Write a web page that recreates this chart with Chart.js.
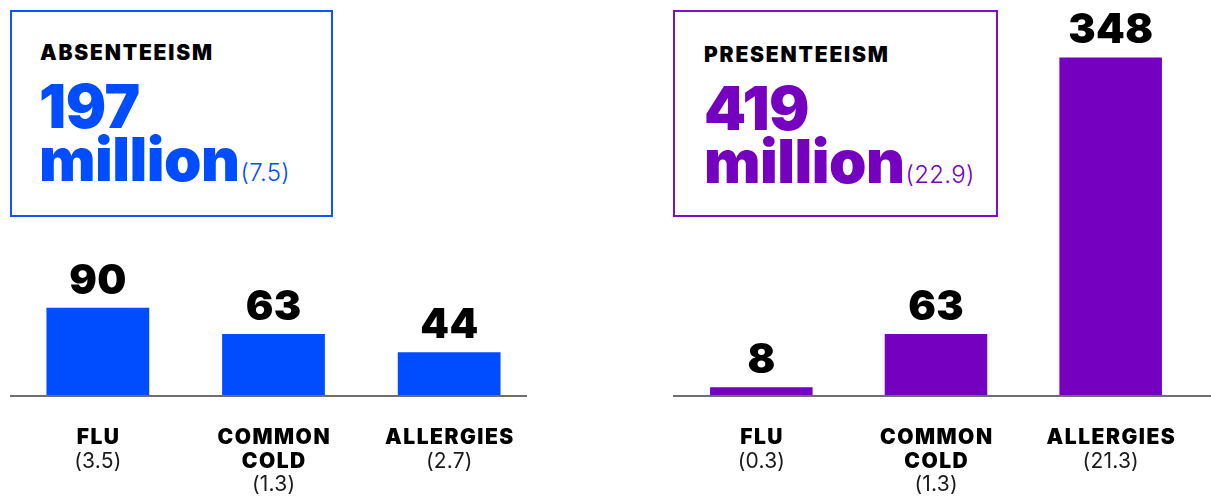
<!DOCTYPE html>
<html>
<head>
<meta charset="utf-8">
<script src="https://cdn.jsdelivr.net/npm/chart.js@4"></script>
<style>
  body { margin: 0; width: 1211px; height: 498px; background: #fff; position: relative; overflow: hidden; font-family: Inter, "DejaVu Sans", sans-serif; }
  canvas { position: absolute; top: 0; }
  .box { position: absolute; top: 10px; height: 203px; border: 2px solid; box-sizing: content-box; }
  .box .title { position: absolute; left: 28px; top: 29px; font-size: 21px; font-weight: 900; color: #000; letter-spacing: 1.8px; line-height: 24px; }
  .box .big { position: absolute; left: 27px; top: 68px; font-size: 60px; font-weight: 900; line-height: 53px; letter-spacing: -0.5px; }
  .box .sub { font-size: 24px; font-weight: 300; letter-spacing: 0.3px; margin-left: 1px; }
</style>
</head>
<body>
<div class="box" id="boxAbs" style="left:10px;width:319px;border-color:#0f55ff;color:#004dff">
  <div class="title">ABSENTEEISM</div>
  <div class="big">197<br>million<span class="sub">(7.5)</span></div>
</div>
<div class="box" id="boxPre" style="left:673px;width:321px;border-color:#7d10c6;color:#7500c0">
  <div class="title" style="left:29px;top:31px">PRESENTEEISM</div>
  <div class="big" style="left:29px;top:70px">419<br>million<span class="sub">(22.9)</span></div>
</div>
<canvas id="graficoAssenze" width="540" height="498" style="left:0"></canvas>
<canvas id="graficoPresenze" width="611" height="498" style="left:600px"></canvas>
<script>
const categorie = [['FLU'], ['COMMON', 'COLD'], ['ALLERGIES']];
const assenzeValori = [90, 63, 44];
const assenzeGiorni = [3.5, 1.3, 2.7];
const presenzeValori = [8, 63, 348];
const presenzeGiorni = [0.3, 1.3, 21.3];

function scriviCentrato(ctx, testo, x, y, spazio) {
    // con letterSpacing il testo si allunga di uno spazio finale, lo compenso
    ctx.letterSpacing = spazio + 'px';
    ctx.fillText(testo, x + spazio / 2, y);
    ctx.letterSpacing = '0px';
}

const etichettePlugin = {
    id: 'etichette',
    afterDatasetsDraw(chart, args, opts) {
        const ctx = chart.ctx;
        const area = chart.chartArea;
        const xScale = chart.scales.x;
        const yScale = chart.scales.y;
        ctx.save();
        // linea di base
        ctx.strokeStyle = '#6e6e6e';
        ctx.lineWidth = 2;
        ctx.beginPath();
        ctx.moveTo(opts.lineStart, area.bottom + 1);
        ctx.lineTo(opts.lineEnd, area.bottom + 1);
        ctx.stroke();

        const valori = chart.data.datasets[0].data;
        ctx.textAlign = 'center';
        valori.forEach((v, i) => {
            const x = xScale.getPixelForValue(i);
            const y = yScale.getPixelForValue(v);
            ctx.fillStyle = '#000';
            ctx.font = '900 41px Inter, "DejaVu Sans", sans-serif';
            ctx.textBaseline = 'alphabetic';
            scriviCentrato(ctx, String(v), x, y - 14, 0.5);

            // etichette categoria
            const righe = categorie[i];
            ctx.textBaseline = 'middle';
            ctx.font = '900 21px Inter, "DejaVu Sans", sans-serif';
            let yy = 438;
            righe.forEach(r => {
                scriviCentrato(ctx, r, x, yy, 1.5);
                yy += 23.5;
            });
            ctx.font = '400 21px Inter, "DejaVu Sans", sans-serif';
            ctx.fillStyle = '#1a1a1a';
            scriviCentrato(ctx, '(' + opts.giorni[i].toFixed(1) + ')', x, yy, 0.2);
        });
        ctx.restore();
    }
};

function creaGrafico(id, valori, giorni, colore, padding, lineStart, lineEnd, barPct) {
    return new Chart(document.getElementById(id), {
        type: 'bar',
        data: {
            labels: categorie.map(c => c.join(' ')),
            datasets: [{
                data: valori,
                backgroundColor: colore,
                borderWidth: 0,
                categoryPercentage: 1,
                barPercentage: barPct
            }]
        },
        options: {
            responsive: false,
            animation: false,
            layout: { padding: padding },
            scales: {
                x: { display: false },
                y: { display: false, min: 0, max: 400 }
            },
            plugins: {
                legend: { display: false },
                tooltip: { enabled: false },
                etichette: { giorni: giorni, lineStart: lineStart, lineEnd: lineEnd }
            }
        },
        plugins: [etichettePlugin]
    });
}

creaGrafico('graficoAssenze', assenzeValori, assenzeGiorni, '#004dff',
    { left: 10, right: 3, top: 7, bottom: 103 }, 10, 527, 0.585);
creaGrafico('graficoPresenze', presenzeValori, presenzeGiorni, '#7500c0',
    { left: 74, right: 13, top: 7, bottom: 103 }, 73, 611, 0.587);
</script>
</body>
</html>
